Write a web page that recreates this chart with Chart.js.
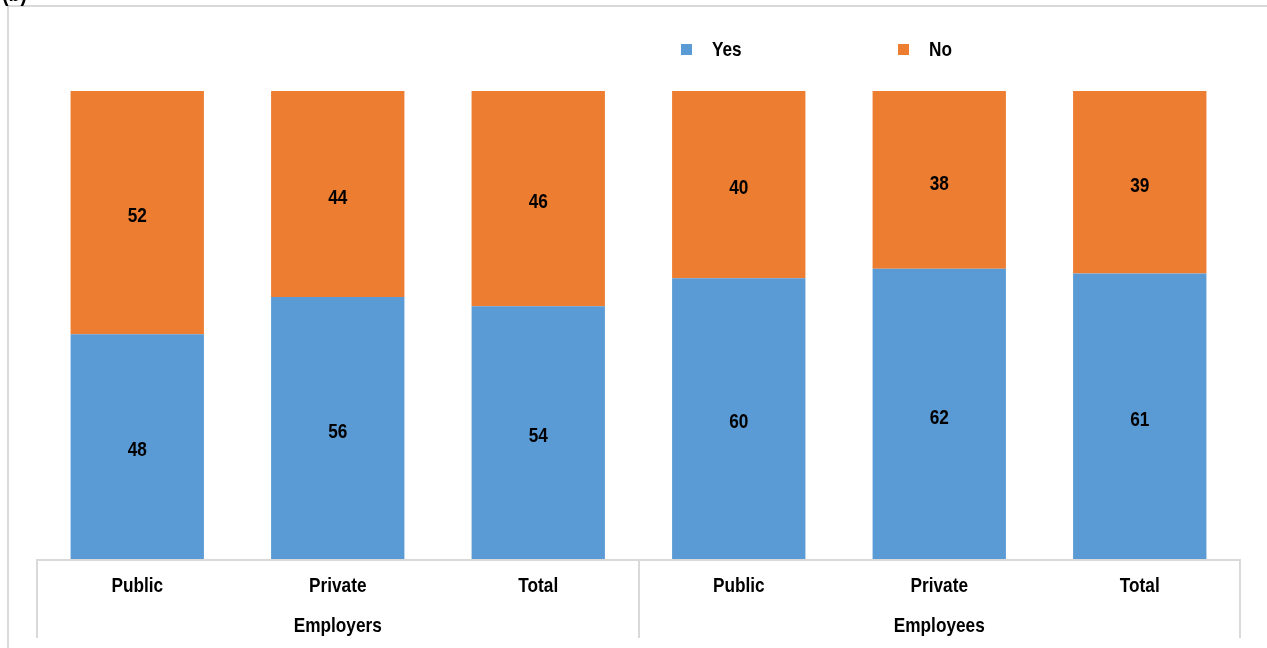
<!DOCTYPE html>
<html>
<head>
<meta charset="utf-8">
<script src="https://cdn.jsdelivr.net/npm/chart.js@4/dist/chart.umd.min.js"></script>
<style>
  html, body { margin: 0; padding: 0; background: #fff; }
  #wrap { position: relative; width: 1267px; height: 648px; }
</style>
</head>
<body>
<div id="wrap"><canvas id="surveyChart" width="1267" height="648"></canvas></div>
<script>
const categories = ["Public", "Private", "Total", "Public", "Private", "Total"];
const groups = ["Employers", "Employees"];
const groupSize = 3;
const yesValues = [48, 56, 54, 60, 62, 61];
const noValues = [52, 44, 46, 40, 38, 39];

const FONT = "'Liberation Sans', Arial, sans-serif";
const SIZE = 21;
const SQUEEZE = 0.82; // narrow bold look
const LINE = '#d9d9d9';

// bold condensed text, anchored at (x, y) with the current textAlign
function narrowText(ctx, text, x, y, size) {
    ctx.save();
    ctx.font = 'bold ' + (size || SIZE) + 'px ' + FONT;
    ctx.fillStyle = '#000';
    ctx.textBaseline = 'middle';
    ctx.translate(x, y);
    ctx.scale(SQUEEZE, 1);
    ctx.fillText(text, 0, 0);
    ctx.restore();
}

// frame lines and the panel tag in the corner
const framePlugin = {
    id: 'frame',
    beforeDraw(chart) {
        const ctx = chart.ctx;
        ctx.save();
        ctx.strokeStyle = LINE;
        ctx.lineWidth = 2;
        ctx.beginPath();
        ctx.moveTo(8, 648);
        ctx.lineTo(8, 6);
        ctx.lineTo(1267, 6);
        ctx.stroke();
        ctx.textAlign = 'left';
        narrowText(ctx, '(b)', 2, -6, 24);
        ctx.restore();
    }
};

// category ticks, group separators and group names under the axis
const groupAxisPlugin = {
    id: 'groupAxis',
    afterDraw(chart) {
        const ctx = chart.ctx;
        const x = chart.scales.x;
        const half = (x.getPixelForValue(1) - x.getPixelForValue(0)) / 2;
        const bottom = chart.chartArea.bottom;
        ctx.save();
        ctx.strokeStyle = LINE;
        ctx.lineWidth = 2;
        ctx.beginPath();
        ctx.moveTo(x.left, bottom + 1);
        ctx.lineTo(x.right, bottom + 1);
        ctx.stroke();
        for (let i = 0; i <= categories.length; i += groupSize) {
            const px = Math.round(x.getPixelForValue(Math.min(i, categories.length - 1)) + (i === categories.length ? half : -half));
            ctx.beginPath();
            ctx.moveTo(px, bottom);
            ctx.lineTo(px, bottom + 79);
            ctx.stroke();
        }
        ctx.textAlign = 'center';
        categories.forEach((c, i) => narrowText(ctx, c, x.getPixelForValue(i), bottom + 27));
        groups.forEach((g, gi) => {
            const first = x.getPixelForValue(gi * groupSize) - half;
            const last = x.getPixelForValue(gi * groupSize + groupSize - 1) + half;
            narrowText(ctx, g, (first + last) / 2, bottom + 67);
        });
        ctx.restore();
    }
};

// value labels in the middle of each segment
const valueLabelPlugin = {
    id: 'valueLabels',
    afterDatasetsDraw(chart) {
        const ctx = chart.ctx;
        ctx.save();
        ctx.textAlign = 'center';
        chart.data.datasets.forEach((ds, di) => {
            chart.getDatasetMeta(di).data.forEach((bar, i) => {
                narrowText(ctx, String(ds.data[i]), bar.x, (bar.y + bar.base) / 2 + 4);
            });
        });
        ctx.restore();
    }
};

// legend row above the plot
const legendPlugin = {
    id: 'topLegend',
    afterDraw(chart) {
        const ctx = chart.ctx;
        const spots = [681, 898];
        ctx.save();
        ctx.textAlign = 'left';
        chart.data.datasets.forEach((ds, di) => {
            const x0 = spots[di];
            ctx.fillStyle = ds.backgroundColor;
            ctx.fillRect(x0, 44, 11, 11);
            narrowText(ctx, ds.label, x0 + 31, 50);
        });
        ctx.restore();
    }
};

const surveyChart = new Chart(document.getElementById('surveyChart'), {
    type: 'bar',
    data: {
        labels: categories,
        datasets: [{
            label: 'Yes',
            data: yesValues,
            backgroundColor: '#5b9bd5',
            barPercentage: 0.665,
            categoryPercentage: 1
        }, {
            label: 'No',
            data: noValues,
            backgroundColor: '#ed7d31',
            barPercentage: 0.665,
            categoryPercentage: 1
        }]
    },
    options: {
        responsive: false,
        animation: false,
        layout: {
            padding: { left: 37, right: 27, top: 91, bottom: 89 }
        },
        scales: {
            x: {
                stacked: true,
                grid: { display: false, drawTicks: false },
                border: { display: false },
                ticks: { display: false }
            },
            y: {
                stacked: true,
                display: false,
                min: 0,
                max: 100
            }
        },
        plugins: {
            legend: { display: false },
            tooltip: { enabled: false }
        }
    },
    plugins: [framePlugin, valueLabelPlugin, groupAxisPlugin, legendPlugin]
});
</script>
</body>
</html>
